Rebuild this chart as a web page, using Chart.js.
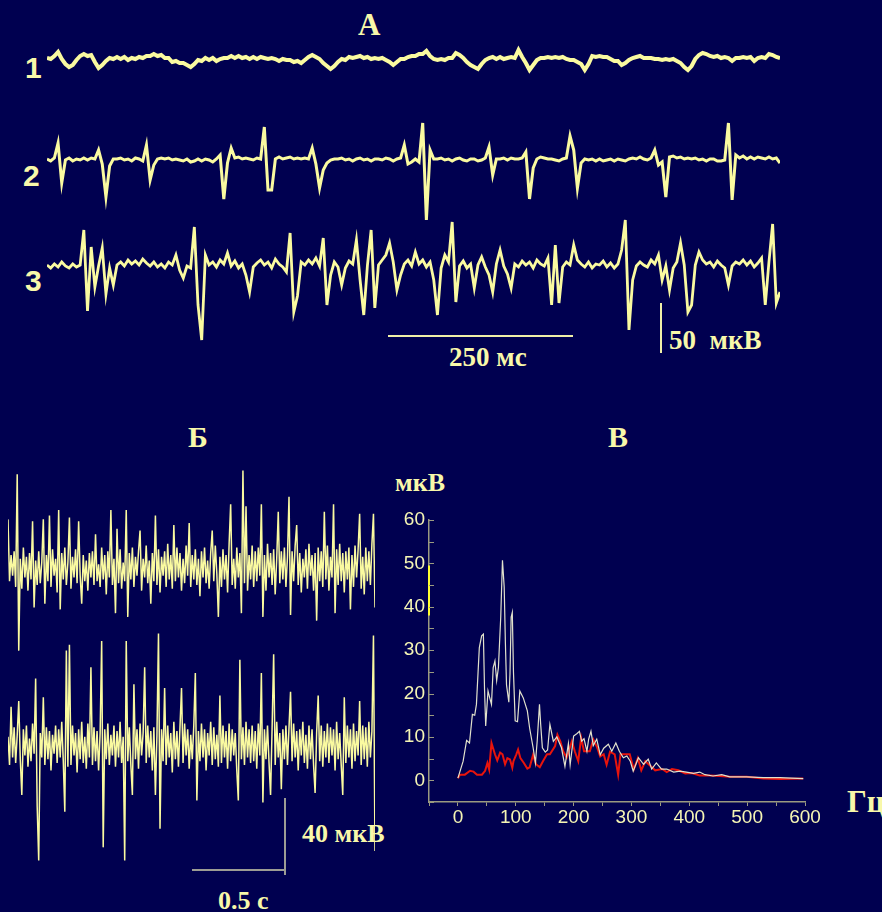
<!DOCTYPE html>
<html>
<head>
<meta charset="utf-8">
<script src="https://cdn.jsdelivr.net/npm/chart.js@4/dist/chart.umd.min.js"></script>
<style>
    body { margin: 0; background: #000050; width: 882px; height: 912px; overflow: hidden; position: relative; }
    .lbl { position: absolute; color: #f8f8aa; line-height: 1; white-space: pre; }
    .serif { font-family: 'Liberation Serif', 'Times New Roman', serif; font-weight: bold; }
    .sans { font-family: 'Liberation Sans', Arial, sans-serif; font-weight: bold; }
    .bar { position: absolute; }
    canvas { position: absolute; }
</style>
</head>
<body>
<!-- Panel titles and labels -->
<div class="lbl serif" style="left:358px;top:9px;font-size:31px;">А</div>
<div class="lbl sans" style="left:25px;top:53px;font-size:30px;">1</div>
<div class="lbl sans" style="left:23px;top:161px;font-size:30px;">2</div>
<div class="lbl sans" style="left:25px;top:266px;font-size:30px;">3</div>
<div class="lbl serif" style="left:449px;top:344px;font-size:27px;">250 мс</div>
<div class="lbl serif" style="left:669px;top:327px;font-size:27px;">50  мкВ</div>
<div class="lbl serif" style="left:188px;top:422px;font-size:30px;">Б</div>
<div class="lbl serif" style="left:608px;top:422px;font-size:30px;">В</div>
<div class="lbl serif" style="left:395px;top:470px;font-size:26px;">мкВ</div>
<div class="lbl serif" style="left:847px;top:786px;font-size:31px;">Гц</div>
<div class="lbl serif" style="left:302px;top:821px;font-size:26px;">40 мкВ</div>
<div class="lbl serif" style="left:218px;top:888px;font-size:26px;">0.5 с</div>

<!-- Calibration bars -->
<div class="bar" style="left:388px;top:335px;width:185px;height:2px;background:#f0f0a8;"></div>
<div class="bar" style="left:660px;top:303px;width:2px;height:50px;background:#f0f0a8;"></div>
<div class="bar" style="left:284px;top:798px;width:2px;height:77px;background:#9c9c94;"></div>
<div class="bar" style="left:192px;top:869px;width:93px;height:2px;background:#9c9c94;"></div>

<canvas id="trace1" width="733" height="60" style="left:47px;top:30px;"></canvas>
<canvas id="trace2" width="733" height="120" style="left:47px;top:110px;"></canvas>
<canvas id="trace3" width="733" height="140" style="left:47px;top:210px;"></canvas>
<canvas id="emgTop" width="367" height="210" style="left:8px;top:450px;"></canvas>
<canvas id="emgBottom" width="367" height="245" style="left:8px;top:625px;"></canvas>
<canvas id="spectrum" width="450" height="327" style="left:370px;top:505px;"></canvas>

<script>
// Panel A: three 1 s recordings, one sample every 5 ms, values in mkV from baseline.
const A_SAMPLE_MS = 5;

const trace1 = [
    2, 1, 4, 8, 1, -4, -7, -5, 0, 4,
    6, 4, 5, -2, -8, -5, -1, 2, 1, 3,
    1, 3, 0, 2, 1, 3, 2, 4, 4, 6,
    4, 5, 2, 2, -2, -1, -3, -3, -5, -7,
    -4, 0, -1, 2, 0, 2, -1, 1, 2, 2,
    4, 2, 4, 2, 3, 1, 3, 1, 3, 2,
    1, 2, 1, -1, 1, 0, 0, -2, -1, -3,
    0, 3, 5, 3, 1, -3, -6, -9, -6, -2,
    1, 0, 3, 2, 3, 4, 2, 3, 1, 2,
    1, 2, 0, -2, -5, -2, 1, 1, 3, 4,
    4, 6, 6, 9, 4, 1, 0, 1, 0, 2,
    2, 7, 5, 2, -2, -5, -7, -9, -4, 0,
    2, 3, 1, 3, 1, 2, 3, 2, 10, 3,
    -3, -10, -5, 0, 2, 2, 3, 2, 3, 2,
    3, 1, 0, 0, -2, -4, -10, -4, 4, 3,
    4, 3, 3, 1, -1, -1, -5, -3, 0, 2,
    3, 4, 2, 2, 2, 1, 1, 0, 1, 0,
    1, -1, -3, -7, -10, -6, 1, 5, 7, 6,
    4, 3, 4, 2, 3, 2, -1, 2, 2, 3,
    2, 3, -1, 2, 3, 2, 6, 5, 3, 2,
];

const trace2 = [
    1, -1, 2, 17, -23, 0, 2, -1, 1, 0,
    2, 0, 2, 1, 10, -4, -37, -6, 1, 1,
    2, 0, 1, -1, 2, 1, -1, 15, -20, -5,
    1, 2, 1, 2, 0, 1, 0, -1, 1, -2,
    -1, 1, -1, 1, 0, -2, 1, 5, -39, -3,
    12, 2, 3, 1, 2, 1, 0, 2, 1, 33,
    -30, -30, 1, 3, 1, 2, 3, 1, 2, 1,
    2, 1, 12, -4, -28, -10, -3, 0, 1, 1,
    2, 0, 1, -1, 1, 2, 0, 1, -1, 1,
    1, 0, 2, 1, -1, 1, 2, 15, -4, -2,
    1, -2, 37, -60, 10, 1, 1, 2, 0, 1,
    -1, 1, 2, 0, -1, 1, 1, -1, 0, 2,
    13, -15, 1, 1, 2, 0, 2, 1, 1, 2,
    8, -39, -8, 1, 3, 2, 1, 1, 0, -1,
    1, 2, 24, 10, -28, -3, 1, 0, 1, -1,
    1, -1, 0, 1, -1, 1, 0, -1, 1, 2,
    1, 3, 1, 0, 2, 10, -5, -2, -37, 3,
    4, 2, 3, 1, 2, 1, 2, 0, 1, -1,
    1, 1, -1, -1, 0, 37, -40, 5, 2, 4,
    1, 3, 1, 3, 2, 1, 3, 1, 2, -3,
];

const trace3 = [
    5, 2, 6, 3, 8, 4, 2, 6, 3, 5,
    40, -41, 23, -17, 4, 22, -24, 2, -15, 5,
    8, 4, 10, 6, 9, 5, 11, 7, 4, 8,
    3, 6, 2, 8, 5, 15, 0, -8, 4, 2,
    43, -35, -70, 15, 5, 8, 3, 10, 6, 17,
    4, 9, 2, 6, -5, -22, 3, 7, 10, 5,
    8, 2, 11, 6, 3, -2, 37, -42, -26, 8,
    5, 10, 6, 12, 4, 32, -35, -5, 8, 3,
    -15, 2, 9, 6, 30, -10, -45, 5, 40, -38,
    5, 10, 15, 27, 8, -20, -5, 6, 10, 4,
    18, 6, 10, 3, 8, -10, -45, 2, 15, 8,
    48, -32, 4, 9, 2, 6, -18, 5, 13, 3,
    -5, -22, 6, 20, 4, -4, -18, 6, 3, 9,
    5, 8, 2, 10, 6, 4, 12, -35, 25, -33,
    3, 8, 5, 25, 10, 6, 3, 8, 2, 6,
    5, 9, 3, 7, 2, 6, 20, 50, -60, -10,
    4, 8, 5, 3, 10, 6, 15, -10, 4, -20,
    2, 8, 27, 5, -42, -35, 5, 18, 10, 6,
    8, 3, 9, 5, 2, -15, 4, 8, 6, 10,
    5, 9, 3, 7, 12, -35, 8, 46, -33, -22,
];

// Panel Б: two 2 s interference EMG records, 240 samples each, mkV.
const B_SAMPLE_MS = 2000 / 239;

const emgTop = [
    27, -6, 8, -3, 10, -9, 51, -43, 6, -10, 12, -4, 7, -11, 9, -5, 26, -20, 5, -8,
    10, -7, 4, 27, -18, 8, -6, 29, -9, 11, -3, 6, -12, 32, -21, 9, -5, 12, -8, 4,
    28, -10, 7, -4, 11, -7, 26, -3, -18, 8, -6, 5, -11, 9, -4, 10, -8, 19, -6, 3,
    -9, 12, -5, 8, -13, 10, -4, 32, -8, 6, -23, 22, -7, 11, -10, 4, -6, 32, -25, 9,
    -5, 12, -9, 7, -3, 10, 21, -11, 6, -4, 13, -7, 5, -18, 9, -6, 29, -8, 11, -12,
    7, -3, 10, -9, 14, -5, 8, -10, 24, -6, 12, -4, 9, -11, 6, -7, 13, -3, 25, -9,
    8, -5, 11, -8, 6, -14, 10, -4, 12, -7, 5, -10, 9, 21, -6, 13, -2, -25, 7, -9,
    11, -5, 8, -12, 14, 35, -8, 6, -10, 12, -4, 9, -23, 53, -7, 34, -11, 8, -5, 13,
    -9, 10, -6, 12, -3, 35, -25, 8, -11, 14, -4, 9, -8, 11, -13, 6, 31, -7, 10, -5,
    12, -9, 7, 39, -24, 10, -6, 13, 24, -8, 9, -12, 6, -4, 11, -10, 14, -3, 8, -11,
    9, -27, 12, -6, 10, -9, 31, -5, 13, -11, 7, -4, 35, -23, 11, -8, 14, -6, 9, -12,
    10, -5, 12, -21, 8, -9, 13, -4, 11, 30, -10, 7, -13, 12, -6, 10, -8, 14, 30, -20,
];

const emgBottom = [
    6, -9, 22, -5, 11, -8, 7, 25, -6, -25, 10, -4, 12, -10, 5, -7, 13, -3, 37, -31,
    -60, 8, -5, 27, -9, 11, -6, 9, -12, 7, -3, 12, -8, 10, -5, 14, -7, -34, 52, -10,
    55, -9, 12, -4, 8, -13, 10, -6, 14, -8, 6, -11, 13, -5, 43, -9, 11, -7, 9, -12,
    8, 57, -53, 10, -6, 13, -9, 7, -4, 12, -10, 9, -5, 14, -8, 6, -60, 57, -7, 11,
    -9, -25, 34, -6, 10, -11, 13, -4, 8, 43, -8, 12, -5, 9, -12, 11, -25, 7, 61, -43,
    10, -7, 32, -9, 12, -5, 8, -13, 14, -6, 9, -10, 11, 32, -8, 13, -4, 10, -11, 7,
    -6, 12, 40, -28, 9, -7, 13, -5, 10, -12, 8, -4, 14, -9, 11, -6, 7, -10, 28, -8,
    12, -5, 9, -11, 13, -7, 10, -4, 8, -12, -28, 47, -6, 11, -9, 14, -5, 10, -8, 12,
    -7, 9, -11, 13, -4, 40, -29, 10, -6, 12, -8, -25, 11, 50, -9, 14, -5, 8, -22, 10,
    -6, 12, -9, 11, 30, -7, 13, -5, 9, -12, 10, -4, 14, -8, 7, -11, 12, -6, 10, -9,
    -24, 8, 28, -7, 12, -10, 9, -5, 13, -8, 11, -4, 10, -12, 14, -6, 8, -9, -25, 27,
    -8, 12, -5, 10, -11, 13, -7, 9, -4, 25, -9, 12, -6, 11, -10, 14, -5, 9, 60, -55,
];

// Panel В: amplitude spectra (Hz, mkV).
const whiteHz = [
    0, 9, 15, 20, 25, 29, 32, 37, 41, 44, 46, 48, 52, 55, 58, 61, 64, 67, 70, 74,
    77, 80, 82, 84, 88, 90, 92, 94, 96, 99, 103, 107, 113, 120, 124, 130, 134, 137, 141, 143,
    146, 151, 155, 159, 165, 171, 179, 185, 191, 194, 200, 206, 210, 214, 218, 223, 226, 230, 234, 240,
    246, 252, 260, 266, 273, 279, 286, 292, 298, 303, 312, 321, 329, 335, 343, 352, 361, 373, 384, 395,
    407, 418, 427, 441, 456, 470, 499, 528, 557, 597,
];
const whiteUv = [
    0.5, 4.4, 9.2, 8.6, 15.2, 15, 17.5, 30.6, 33.3, 33.7, 21, 12.5, 20.6, 19, 17.5, 26, 27.5, 23, 26, 37.6,
    50.7, 44.5, 32, 22, 18, 24.5, 37.6, 38.7, 25, 13.7, 13.5, 20.6, 19, 16, 12, 7.5, 4, 9, 17.5, 13,
    7.5, 6.5, 7, 12.9, 9, 10, 7.5, 3.2, 8.5, 3.6, 10.2, 10.8, 11.3, 9, 9.6, 6.7, 9.5, 11.3, 8, 9.5,
    5.9, 7.4, 8.3, 6.7, 8.6, 6.7, 5.2, 5.6, 4.4, 2.1, 5.2, 3.7, 4.9, 2.6, 4, 2.6, 2.6, 1.9, 2.1, 1.9,
    1.6, 1.9, 1.3, 1, 1.3, 0.8, 0.8, 0.6, 0.6, 0.4,
];
const redHz = [
    0, 3.5, 12, 21, 27, 33, 41.5, 47, 51, 54, 58, 64, 68, 73, 77, 81.5, 85.5, 90, 94, 96,
    101, 104, 108, 114, 120, 124, 130, 135, 141.5, 147, 154, 159, 168, 172, 177, 182, 188, 197, 202, 208,
    213, 218, 228, 234, 240, 246, 252, 257, 263, 271, 277, 281, 289, 297, 304, 311, 317, 324, 333, 341,
    353, 361, 370, 381, 393, 404, 418, 436, 453, 470, 499, 528, 557, 597,
];
const redUv = [
    0.5, 1.3, 1.3, 2.2, 2, 1.3, 1.3, 2.2, 4, 2.5, 8.6, 6, 4.6, 6.4, 6, 3.7, 5.1, 4.8, 2.9, 4.4,
    6, 7.1, 5.1, 4, 2.7, 3, 5.9, 3.7, 3, 4.4, 6, 6, 7.9, 10.5, 9, 6.7, 5.2, 9, 6.7, 4.4,
    9.8, 6.7, 6.7, 9.4, 7.8, 5.5, 6, 3.6, 6.6, 6, 1.3, 6, 6, 6, 2.5, 5.1, 2.3, 4.4, 3.3, 2.3,
    2.6, 1.9, 2.6, 2.3, 1.6, 1.7, 1.1, 1.1, 1, 0.8, 0.8, 0.4, 0.3, 0.4,
];
// Stray yellow segment on the y axis of the spectrum (mkV).
const axisMarkUv = [38, 49.5];

const TRACE_COLOR = '#fafaa0';
const AXIS_COLOR = '#9a9a80';
const TICK_COLOR = '#f5f5b4';

Chart.defaults.animation = false;
Chart.defaults.devicePixelRatio = 1;

// Draw one raw trace with hidden axes; the y range sets where the baseline falls.
function drawTrace(canvasId, values, sampleMs, yMin, yMax, width) {
    const points = values.map((v, i) => ({ x: i * sampleMs, y: v }));
    return new Chart(document.getElementById(canvasId), {
        type: 'line',
        data: {
            datasets: [{
                data: points,
                borderColor: TRACE_COLOR,
                borderWidth: width,
                pointRadius: 0,
                tension: 0,
            }],
        },
        options: {
            responsive: false,
            events: [],
            layout: { padding: 0 },
            plugins: { legend: { display: false }, tooltip: { enabled: false } },
            scales: {
                x: { type: 'linear', display: false, min: 0, max: (values.length - 1) * sampleMs },
                y: { display: false, min: yMin, max: yMax },
            },
        },
    });
}

// Panel A at 1 px per mkV; Panel Б at 1.875 px per mkV.
drawTrace('trace1', trace1, A_SAMPLE_MS, -30, 30, 4);
drawTrace('trace2', trace2, A_SAMPLE_MS, -70, 50, 3);
drawTrace('trace3', trace3, A_SAMPLE_MS, -80, 60, 2.8);
drawTrace('emgTop', emgTop, B_SAMPLE_MS, -48, 64, 1.5);
drawTrace('emgBottom', emgBottom, B_SAMPLE_MS, -65.07, 65.6, 1.5);

// Small tick marks drawn inward from the y axis, like the original plot.
const inwardTicks = {
    id: 'inwardTicks',
    afterDatasetsDraw(chart) {
        const { ctx, chartArea } = chart;
        const y = chart.scales.y;
        ctx.save();
        ctx.strokeStyle = AXIS_COLOR;
        ctx.lineWidth = 1;
        y.ticks.forEach((t) => {
            const py = Math.round(y.getPixelForValue(t.value)) + 0.5;
            ctx.beginPath();
            ctx.moveTo(chartArea.left, py);
            ctx.lineTo(chartArea.left + 5, py);
            ctx.stroke();
        });
        ctx.restore();
    },
};

const zip = (xs, ys) => xs.map((x, i) => ({ x, y: ys[i] }));
const tickFont = { family: "'Liberation Sans', Arial, sans-serif", size: 19 };

new Chart(document.getElementById('spectrum'), {
    type: 'line',
    data: {
        datasets: [
            {
                data: zip(whiteHz, whiteUv),
                borderColor: '#e2e2cc',
                borderWidth: 1.2,
                pointRadius: 0,
                tension: 0,
            },
            {
                data: zip(redHz, redUv),
                borderColor: '#e8140c',
                borderWidth: 2,
                pointRadius: 0,
                tension: 0,
            },
            {
                data: axisMarkUv.map(v => ({ x: -50, y: v })),
                borderColor: '#ffff30',
                borderWidth: 2,
                pointRadius: 0,
                clip: false,
            },
        ],
    },
    options: {
        responsive: false,
        events: [],
        layout: { padding: { top: 15, right: 15, left: 0, bottom: 0 } },
        plugins: { legend: { display: false }, tooltip: { enabled: false } },
        scales: {
            x: {
                type: 'linear',
                min: -50,
                max: 600,
                afterFit: (s) => { s.height = 30; s.paddingLeft = 0; s.paddingRight = 0; },
                border: { color: AXIS_COLOR, width: 1.5 },
                grid: { drawOnChartArea: false, color: AXIS_COLOR, tickLength: 4 },
                ticks: {
                    stepSize: 50,
                    autoSkip: false,
                    maxRotation: 0,
                    padding: 0,
                    color: TICK_COLOR,
                    font: tickFont,
                    callback: v => (v >= 0 && v % 100 === 0 ? String(v) : ''),
                },
            },
            y: {
                min: -5,
                max: 60,
                afterFit: (s) => { s.width = 59; s.paddingTop = 0; s.paddingBottom = 0; },
                border: { color: AXIS_COLOR, width: 1.5 },
                grid: { drawOnChartArea: false, drawTicks: false },
                ticks: {
                    stepSize: 5,
                    autoSkip: false,
                    padding: 4,
                    color: TICK_COLOR,
                    font: tickFont,
                    callback: v => (v >= 0 && v % 10 === 0 ? String(v) : ''),
                },
            },
        },
    },
    plugins: [inwardTicks],
});
</script>
</body>
</html>
